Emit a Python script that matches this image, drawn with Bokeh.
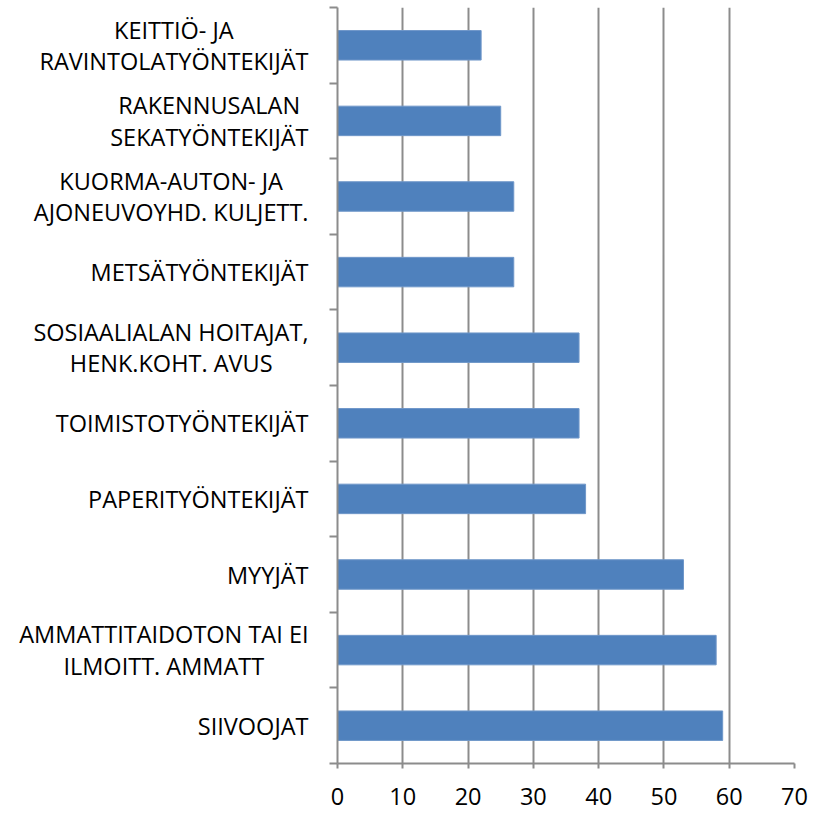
from bokeh.plotting import figure
from bokeh.layouts import row
from bokeh.models import Range1d, FixedTicker, LinearAxis, Grid
from bokeh.embed import file_html
from bokeh.resources import INLINE

# Categories from bottom to top
categories = [
    "SIIVOOJAT",
    "AMMATTITAIDOTON TAI EI\nILMOITT. AMMATT",
    "MYYJÄT",
    "PAPERITYÖNTEKIJÄT",
    "TOIMISTOTYÖNTEKIJÄT",
    "SOSIAALIALAN HOITAJAT,\nHENK.KOHT. AVUS",
    "METSÄTYÖNTEKIJÄT",
    "KUORMA-AUTON- JA\nAJONEUVOYHD. KULJETT.",
    "RAKENNUSALAN\nSEKATYÖNTEKIJÄT",
    "KEITTIÖ- JA\nRAVINTOLATYÖNTEKIJÄT",
]
values = [59, 58, 53, 38, 37, 37, 27, 27, 25, 22]
x_ticks = [0, 10, 20, 30, 40, 50, 60, 70]

n = len(categories)
centers = [i + 0.5 for i in range(n)]
bounds = list(range(n + 1))

FONT = "Open Sans"
GRAY = "#8c8c8c"
FS_PX = 23.5
FS = f"{FS_PX}px"
H = 813
TOP, BOTTOM = 7, 50
LABEL_W = 327       # width of the label panel
LABEL_RIGHT = 308   # right edge of label text inside the panel
LINE_STEP = 31.5    # px between lines of a two-line label

# approximate Open Sans advance widths (per 1000 em) for centring multi-line labels
_W = {" ": 260, ",": 245, "-": 322, ".": 266, "A": 633, "Ä": 633, "B": 648, "C": 631,
      "D": 729, "E": 556, "F": 516, "G": 728, "H": 738, "I": 279, "J": 268, "K": 614,
      "L": 519, "M": 903, "N": 754, "O": 779, "Ö": 779, "P": 602, "R": 618, "S": 549,
      "T": 553, "U": 728, "V": 595, "Y": 560}


def text_width(s):
    return sum(_W.get(ch, 600) for ch in s) / 1000.0 * FS_PX


# ---- label panel (category names) ----
lp = figure(width=LABEL_W, height=H, output_backend="svg", toolbar_location=None,
            x_range=Range1d(0, LABEL_W), y_range=Range1d(0, n),
            x_axis_location=None, y_axis_location=None,
            min_border_left=0, min_border_right=0, min_border_top=TOP, min_border_bottom=BOTTOM)
for gr in list(lp.grid):
    gr.visible = False
lp.outline_line_color = None

lx, ly, lt, lyo = [], [], [], []
for c, lab in zip(centers, categories):
    lines = lab.split("\n")
    widths = [text_width(s) for s in lines]
    wmax = max(widths)
    k = len(lines)
    for j, (s, w) in enumerate(zip(lines, widths)):
        lx.append(LABEL_RIGHT - (wmax - w) / 2.0)
        ly.append(c)
        lt.append(s)
        lyo.append(-((k - 1) / 2.0 - j) * LINE_STEP)
lp.text(x=lx, y=ly, text=lt, y_offset=lyo, text_align="right", text_baseline="middle",
        text_font={"value": FONT}, text_font_size={"value": FS}, text_color="#000000")

# ---- main chart ----
p = figure(width=815 - LABEL_W, height=H, output_backend="svg", toolbar_location=None,
           x_range=Range1d(0, 70), y_range=Range1d(0, n),
           x_axis_location=None, y_axis_location=None,
           min_border_left=10, min_border_right=21, min_border_top=TOP, min_border_bottom=BOTTOM)
for gr in list(p.grid):
    gr.visible = False
p.outline_line_color = None
p.background_fill_color = "white"
p.border_fill_color = "white"

g = Grid(dimension=0, ticker=FixedTicker(ticks=x_ticks))
g.grid_line_color = GRAY
g.grid_line_width = 2
p.add_layout(g)

p.hbar(y=centers, right=values, left=0, height=0.39, color="#4F81BD",
       line_color="#6f97c9", line_width=1)

xa = LinearAxis(ticker=FixedTicker(ticks=x_ticks, minor_ticks=[]))
xa.axis_line_color = GRAY
xa.axis_line_width = 2
xa.major_tick_line_color = GRAY
xa.major_tick_line_width = 2
xa.major_tick_in = 0
xa.major_tick_out = 5
xa.major_label_standoff = 19
xa.major_label_text_font = FONT
xa.major_label_text_font_size = FS
xa.major_label_text_color = "#000000"
p.add_layout(xa, "below")

ya = LinearAxis(ticker=FixedTicker(ticks=[], minor_ticks=bounds))
ya.axis_line_color = GRAY
ya.axis_line_width = 2
ya.major_tick_line_color = None
ya.major_tick_in = 0
ya.major_tick_out = 0
ya.minor_tick_line_color = GRAY
ya.minor_tick_line_width = 2
ya.minor_tick_in = 0
ya.minor_tick_out = 8
ya.major_label_standoff = 0
p.add_layout(ya, "left")

layout = row(lp, p, spacing=0)
open("out.html", "w").write(file_html(layout, INLINE))
